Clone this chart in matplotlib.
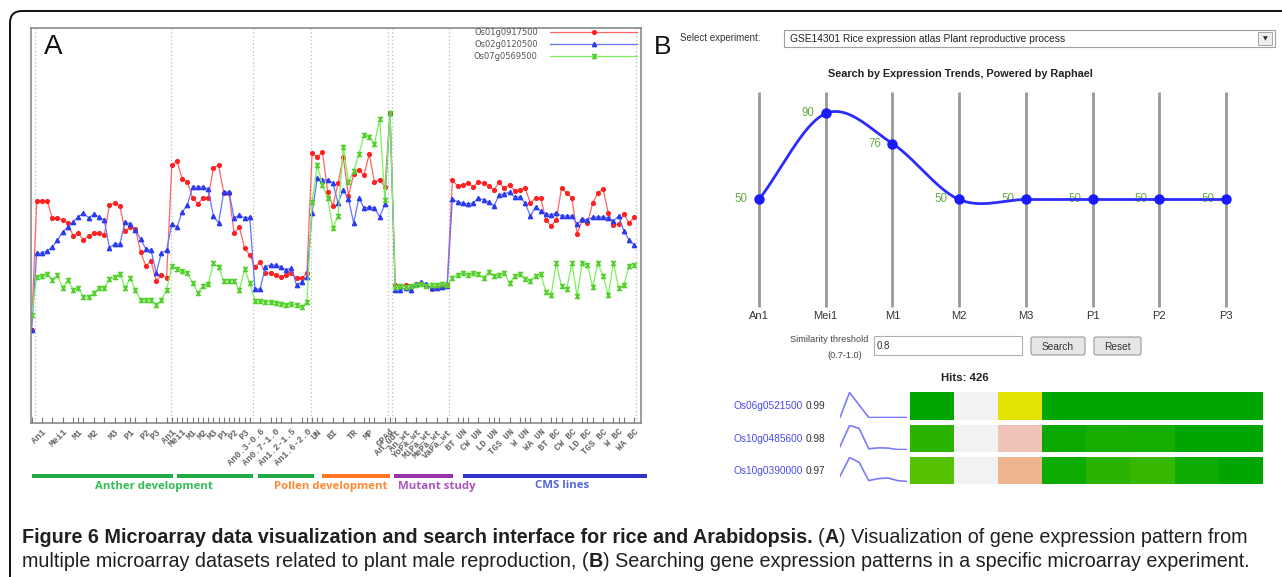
import numpy as np
import matplotlib
matplotlib.use('Agg')
import matplotlib.pyplot as plt
import matplotlib.colors as mcolors
from matplotlib.patches import FancyBboxPatch, Rectangle
from matplotlib.path import Path
from matplotlib import font_manager as fm

W, H = 1282, 577

# ---------------- Panel A data ----------------
genes = ['Os01g0917500', 'Os02g0120500', 'Os07g0569500']
expr_red = [93, 222, 222, 222, 205, 205, 203, 200, 187, 190, 183, 187, 190, 190, 188, 218, 220, 217, 192, 196, 194, 171, 157, 162, 142, 148, 145,
            258, 262, 244, 241, 225, 219, 225, 225, 255, 258, 230, 230, 190, 196, 175, 168, 156, 161, 150, 150, 148, 146, 148, 150, 145, 145, 150,
            270, 266, 271, 231, 217, 240, 266, 227, 249, 253, 248, 269, 241, 243, 236, 310,
            138, 137, 138, 136, 139, 140, 138, 134, 136, 137, 139,
            243, 237, 238, 240, 236, 241, 240, 237, 233, 241, 235, 238, 232, 233, 235, 220, 225, 225, 203, 197, 203, 235, 230, 225,
            189, 203, 200, 220, 230, 234, 210, 198, 199, 209, 200, 206]
expr_blue = [93, 170, 170, 172, 176, 183, 191, 196, 201, 206, 210, 205, 209, 206, 203, 175, 179, 179, 201, 199, 193, 184, 174, 173, 150, 170, 173,
             199, 196, 211, 218, 236, 236, 236, 234, 207, 200, 231, 231, 205, 208, 205, 206, 134, 134, 156, 158, 158, 156, 153, 155, 138, 141, 146,
             210, 245, 243, 243, 240, 220, 233, 224, 200, 225, 215, 216, 215, 206, 219, 310,
             133, 133, 135, 133, 139, 141, 139, 135, 135, 136, 137,
             224, 221, 220, 219, 220, 225, 223, 221, 217, 228, 229, 231, 226, 226, 220, 207, 216, 212, 209, 208, 210, 207, 207, 207,
             199, 204, 203, 206, 206, 206, 205, 202, 207, 192, 183, 178]
expr_green = [108, 146, 147, 149, 143, 148, 135, 143, 133, 135, 126, 126, 130, 135, 135, 144, 146, 149, 135, 145, 133, 123, 123, 123, 118, 123, 133,
              157, 154, 152, 150, 140, 130, 137, 139, 160, 156, 142, 142, 142, 133, 154, 140, 122, 122, 121, 121, 120, 119, 118, 119, 118, 116, 121,
              221, 258, 238, 225, 195, 207, 276, 241, 252, 269, 288, 286, 279, 304, 223, 310,
              136, 137, 136, 137, 138, 139, 137, 138, 138, 139, 138,
              145, 148, 150, 148, 150, 149, 145, 151, 147, 148, 150, 140, 147, 149, 144, 142, 147, 149, 131, 128, 160, 137, 134, 160,
              127, 160, 158, 136, 160, 147, 128, 160, 135, 138, 157, 158]

tick_labels = ['An1', 'Mei1', 'M1', 'M2', 'M3', 'P1', 'P2', 'P3',
               'An1', 'Mei1', 'M1', 'M2', 'M3', 'P1', 'P2', 'P3',
               'An0.3-0.6', 'An0.7-1.0', 'An1.2-1.5', 'An1.6-2.0',
               'UN', 'BI', 'TR', 'MP', 'GPAd',
               'An_udt', 'An_wt', 'YoPa_wt', 'MiPa_wt', 'MePa_wt', 'VaPa_wt',
               'BT UN', 'CW UN', 'LD UN', 'TGS UN', 'W UN', 'WA UN',
               'BT BC', 'CW BC', 'LD BC', 'TGS BC', 'W BC', 'WA BC']
tick_pos = [2, 6, 9, 12, 16, 19, 22, 24,
            27, 29, 31, 33, 35, 37, 39, 41,
            44, 47, 50, 53,
            55, 58, 62, 65, 69,
            70, 72, 74, 76, 78, 80,
            83, 86, 89, 92, 95, 98, 101, 104, 107, 110, 113, 116]
section_breaks = [0.7, 26.8, 42.6, 53.8, 68.7, 69.3, 80.3, 116.4]

group_names = ['Anther development', 'Pollen development', 'Mutant study', 'CMS lines']

# ---------------- Panel B data ----------------
experiment = 'GSE14301 Rice expression atlas Plant reproductive process'
stages = ['An1', 'Mei1', 'M1', 'M2', 'M3', 'P1', 'P2', 'P3']
trend = [50, 90, 76, 50, 50, 50, 50, 50]
threshold = '0.8'
n_hits = 426
hit_genes = ['Os06g0521500', 'Os10g0485600', 'Os10g0390000']
hit_scores = [0.99, 0.98, 0.97]
hit_profiles = [[0.0, 1.0, 0.5, 0.0, 0.0, 0.0, 0.0, 0.0],
                [0.12, 1.0, 0.88, 0.03, 0.07, 0.06, 0.0, 0.0],
                [0.22, 1.0, 0.8, 0.04, 0.12, 0.15, 0.04, 0.0]]

# ---------------- helpers ----------------
def frac(x0, y0, x1, y1):
    return [x0 / W, 1 - y1 / H, (x1 - x0) / W, (y1 - y0) / H]

names = {f.name for f in fm.fontManager.ttflist}
cap_family = 'Liberation Sans Narrow' if 'Liberation Sans Narrow' in names else 'Liberation Sans'

fig = plt.figure(figsize=(W / 100, H / 100), dpi=100)
ax_bg = fig.add_axes([0, 0, 1, 1])
ax_bg.set_xlim(0, W)
ax_bg.set_ylim(H, 0)
ax_bg.axis('off')

ax_bg.add_patch(FancyBboxPatch((10, 11), 1320, 620, boxstyle='round,pad=0,rounding_size=12',
                               fc='none', ec='#111111', lw=1.4))

# ---------------- Panel A ----------------
axA = fig.add_axes(frac(31, 28, 641, 423))
x = np.arange(len(expr_red))
hour = Path([(-1, 1), (1, 1), (-1, -1), (1, -1), (-1, 1)],
            [Path.MOVETO, Path.LINETO, Path.LINETO, Path.LINETO, Path.CLOSEPOLY])
styles = [dict(color='#ff6464', marker='o', ms=2.7, mfc='#ff2020', mec='#ff2020'),
          dict(color='#6474ff', marker='^', ms=3.1, mfc='#2a3aee', mec='#2a3aee'),
          dict(color='#7af05a', marker=hour, ms=3.0, mfc='#66e040', mec='#55d030')]
handles = []
for vals, st, g in zip([expr_red, expr_blue, expr_green], styles, genes):
    h, = axA.plot(x, vals, lw=0.9, label=g, **st)
    handles.append(h)
for b in section_breaks:
    axA.axvline(b, color='#bbbbbb', lw=0.9, ls=(0, (1, 2)), zorder=0)
axA.set_xlim(-0.1, 117.3)
axA.set_ylim(0, 395)
axA.set_yticks([])
for s in axA.spines.values():
    s.set_color('#8a8a8a')
    s.set_linewidth(1.2)
axA.set_xticks(np.arange(0, 117, 2), minor=True)
axA.set_xticks(tick_pos)
axA.set_xticklabels(tick_labels, rotation=45, ha='right', rotation_mode='anchor')
axA.tick_params(axis='x', which='both', direction='in', length=4, width=0.8, color='#777777')
axA.tick_params(axis='x', which='major', pad=3, labelsize=6.4, labelcolor='#666666')
for t in axA.get_xticklabels():
    t.set_family('Liberation Mono')
    t.set_weight('bold')
leg = axA.legend(handles=handles, loc='upper right', bbox_to_anchor=(637 / W, 1 - 28 / H),
                 bbox_transform=fig.transFigure, frameon=False, markerfirst=False, fontsize=6,
                 handlelength=10.4, handletextpad=1.5, labelspacing=0.35, numpoints=1,
                 borderaxespad=0, borderpad=0, labelcolor='#555555')
fig.text(44 / W, 1 - 47 / H, 'A', fontsize=20, va='center', ha='left', color='#111111',
         family='Liberation Sans', zorder=10)

# group bars and names
bars = [(32, 173, '#22aa44'), (177, 253, '#22aa44'), (258, 314, '#22aa44'),
        (322, 390, '#ff7722'), (394, 453, '#9933aa'), (463, 647, '#3333cc')]
for x0, x1, c in bars:
    ax_bg.add_patch(Rectangle((x0, 474), x1 - x0, 3.8, fc=c, ec='none'))
grp_style = [(154, '#33bb55'), (331, '#ff8833'), (437, '#aa55bb'), (562, '#5566dd')]
for name, (cx, c) in zip(group_names, grp_style):
    ax_bg.text(cx, 486, name, ha='center', va='center', fontsize=8.2, weight='bold',
               family='Open Sans', color=c)

# ---------------- Panel B ----------------
ax_bg.text(654, 47, 'B', fontsize=19, va='center', ha='left', color='#111111', family='Liberation Sans')
ax_bg.text(680, 38, 'Select experiment:', fontsize=7, va='center', color='#333333', family='Liberation Sans')
ax_bg.add_patch(Rectangle((784, 30), 491, 17, fc='white', ec='#a0a0a0', lw=0.8))
ax_bg.text(790, 38.5, experiment, fontsize=7.4, va='center', color='#222222', family='Liberation Sans')
ax_bg.add_patch(Rectangle((1258, 32), 14, 13, fc='#eeeeee', ec='#999999', lw=0.6))
ax_bg.text(1265, 38.5, '\u25bc', fontsize=4.5, ha='center', va='center', color='#333333')
ax_bg.text(960, 74, 'Search by Expression Trends, Powered by Raphael', ha='center', va='center',
           fontsize=7.8, weight='bold', color='#222222', family='Liberation Sans')

def catmull_rom(xs, ys, n=40):
    xs = np.asarray(xs, float)
    ys = np.asarray(ys, float)
    m = np.zeros_like(ys)
    m[1:-1] = (ys[2:] - ys[:-2]) / 2
    m[0] = ys[1] - ys[0]
    m[-1] = ys[-1] - ys[-2]
    t = np.linspace(0, 1, n)
    h00 = 2 * t**3 - 3 * t**2 + 1
    h10 = t**3 - 2 * t**2 + t
    h01 = -2 * t**3 + 3 * t**2
    h11 = t**3 - t**2
    ox, oy = [], []
    for k in range(len(xs) - 1):
        ox.append(xs[k] + t * (xs[k + 1] - xs[k]))
        oy.append(h00 * ys[k] + h10 * m[k] + h01 * ys[k + 1] + h11 * m[k + 1])
    return np.concatenate(ox), np.concatenate(oy)

axB = fig.add_axes(frac(725.6, 82, 1259.4, 326))
axB.patch.set_alpha(0)
axB.axis('off')
axB.set_xlim(-0.5, 7.5)
axB.set_ylim(-8.84, 104.65)
xb = np.arange(len(stages))
axB.vlines(xb, 0, 100, color='#999999', lw=2, zorder=1)
sx, sy = catmull_rom(xb, trend)
axB.plot(sx, sy, color='#2b2bff', lw=2, zorder=3)
axB.plot(xb, trend, 'o', ms=6.5, color='#1a1aff', zorder=4)
for xi, v, s in zip(xb, trend, stages):
    axB.text(xi - 0.17, v, str(v), ha='right', va='center', fontsize=8.3, color='#66aa44',
             family='Liberation Sans', zorder=2)
    axB.text(xi, -4.2, s, ha='center', va='center', fontsize=8, color='#333333', family='Liberation Sans')

ax_bg.text(868, 340, 'Similarity threshold', ha='right', va='center', fontsize=6.6, color='#444444', family='Liberation Sans')
ax_bg.text(862, 355, '(0.7-1.0)', ha='right', va='center', fontsize=6.6, color='#444444', family='Liberation Sans')
ax_bg.add_patch(Rectangle((874, 336), 148, 19, fc='white', ec='#b0b0b0', lw=0.8))
ax_bg.text(877, 346, threshold, ha='left', va='center', fontsize=7, color='#333333', family='Liberation Sans')
for bx0, bx1, lab in [(1031, 1085, 'Search'), (1094, 1141, 'Reset')]:
    ax_bg.add_patch(FancyBboxPatch((bx0, 337), bx1 - bx0, 18, boxstyle='round,pad=0,rounding_size=2',
                                   fc='#e6e6e6', ec='#9a9a9a', lw=0.8))
    ax_bg.text((bx0 + bx1) / 2, 346.5, lab, ha='center', va='center', fontsize=7.3, color='#333333',
               family='Liberation Sans')
ax_bg.text(965, 378, 'Hits: %d' % n_hits, ha='center', va='center', fontsize=8.2, weight='bold',
           color='#222222', family='Liberation Sans')

# terrain-like colour map (R terrain.colors)
n = 256
k = n // 2
hsv = np.stack([np.r_[np.linspace(4 / 12, 2 / 12, k), np.linspace(2 / 12, 0, n - k + 1)[1:]],
                np.r_[np.ones(k), np.linspace(1, 0, n - k + 1)[1:]],
                np.r_[np.linspace(0.65, 0.9, k), np.linspace(0.9, 0.95, n - k + 1)[1:]]], axis=1)
terrain = mcolors.ListedColormap(mcolors.hsv_to_rgb(hsv))

bands = [(392, 420), (425, 452), (457, 484)]
for (y0, y1), g, sc, prof in zip(bands, hit_genes, hit_scores, hit_profiles):
    cy = (y0 + y1) / 2
    ax_bg.text(803, cy, g, ha='right', va='center', fontsize=7.3, color='#4b4bee', family='Liberation Sans')
    ax_bg.text(806, cy, '%.2f' % sc, ha='left', va='center', fontsize=7.3, color='#333333', family='Liberation Sans')
    axs = fig.add_axes(frac(840, y0, 907, y1 - 2))
    axs.axis('off')
    axs.plot(np.arange(len(prof)), prof, color='#7b7bff', lw=1.2)
    axs.set_xlim(0, len(prof) - 1)
    axs.set_ylim(-0.02, 1.02)
    axh = fig.add_axes(frac(910, y0, 1263, y1))
    axh.axis('off')
    axh.imshow(np.array(prof)[None, :], cmap=terrain, vmin=0, vmax=1, aspect='auto',
               interpolation='nearest')

# ---------------- caption ----------------
line2_plain = ('multiple microarray datasets related to plant male reproduction, (B) Searching gene '
               'expression patterns in a specific microarray experiment.')
r = fig.canvas.get_renderer()
probe = fig.text(0, 0, line2_plain, fontsize=12, family=cap_family)
wprobe = probe.get_window_extent(r).width
probe.remove()
cap_size = 12 * 1225 / wprobe

def chain(x0, ybase, segments):
    prev = None
    for txt, bold, gap in segments:
        kw = dict(fontsize=cap_size, family=cap_family, weight='bold' if bold else 'normal',
                  color='#231f20')
        if prev is None:
            prev = ax_bg.text(x0, ybase, txt, va='baseline', ha='left', **kw)
        else:
            prev = ax_bg.annotate(txt, xy=(1, 0), xycoords=prev, xytext=(gap, 0),
                                  textcoords='offset points', va='bottom', ha='left', **kw)

sp = 0.27 * cap_size
chain(22, 543, [('Figure 6 Microarray data visualization and search interface for rice and Arabidopsis.', True, 0),
                ('(', False, sp), ('A', True, 0),
                (') Visualization of gene expression pattern from', False, 0)])
chain(22, 567, [('multiple microarray datasets related to plant male reproduction, (', False, 0),
                ('B', True, 0),
                (') Searching gene expression patterns in a specific microarray experiment.', False, 0)])

fig.savefig('out.png', dpi=100)
